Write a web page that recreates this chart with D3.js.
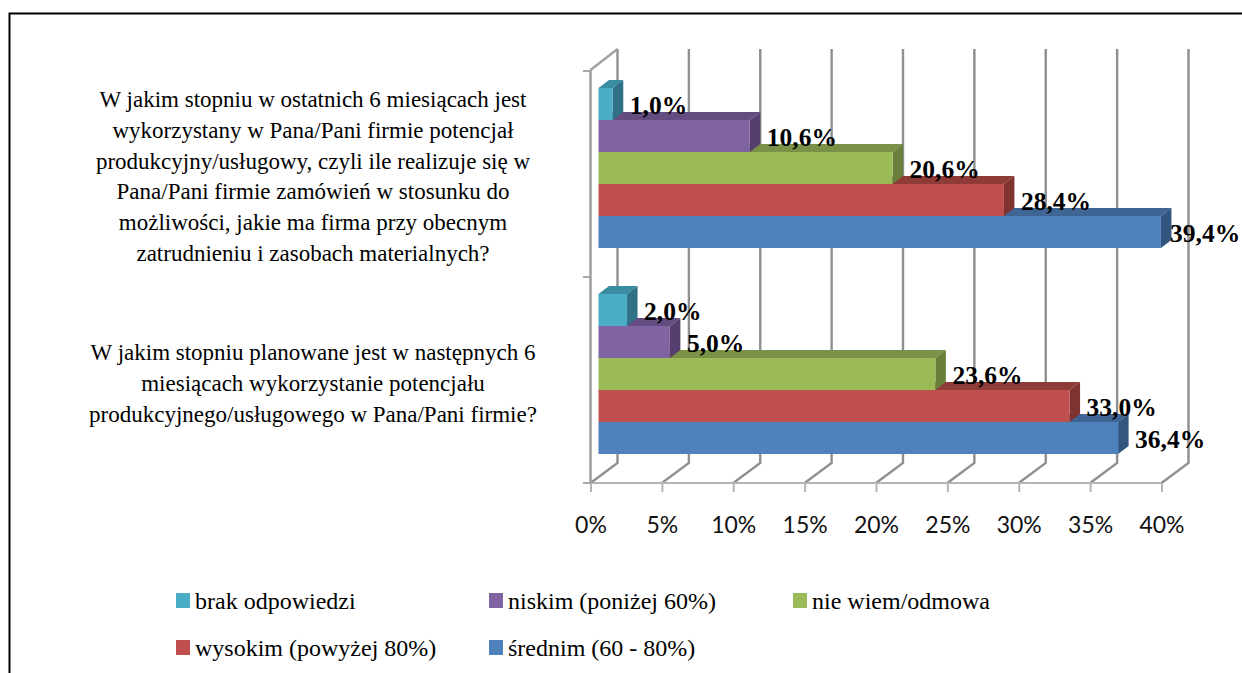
<!DOCTYPE html>
<html><head><meta charset="utf-8">
<script src="https://cdn.jsdelivr.net/npm/d3@7/dist/d3.min.js"></script>
<style>html,body{margin:0;padding:0;background:#fff;overflow:hidden}svg{display:block}</style>
</head><body><svg id="c" width="1242" height="673"></svg>
<script>
const categories = ["top", "bottom"];
const categoryLabels = [
  ["W jakim stopniu w ostatnich 6 miesiącach jest","wykorzystany w Pana/Pani firmie potencjał","produkcyjny/usługowy, czyli ile realizuje się w","Pana/Pani firmie zamówień w stosunku do","możliwości, jakie ma firma przy obecnym","zatrudnieniu i zasobach materialnych?"],
  ["W jakim stopniu planowane jest w następnych 6","miesiącach wykorzystanie potencjału","produkcyjnego/usługowego w Pana/Pani firmie?"]
];
const seriesNames = ["brak odpowiedzi","niskim (poniżej 60%)","nie wiem/odmowa","wysokim (powyżej 80%)","średnim (60 - 80%)"];
const brakOdpowiedzi = [1.0, 2.0];
const niskim = [10.6, 5.0];
const nieWiem = [20.6, 23.6];
const wysokim = [28.4, 33.0];
const srednim = [39.4, 36.4];
const seriesValues = [brakOdpowiedzi, niskim, nieWiem, wysokim, srednim];
const frontColors = ["#4BACC6","#8064A2","#9BBB59","#C0504D","#4F81BD"];
const topColors   = ["#3A8CA3","#644B80","#7A9147","#8F3C39","#3E6593"];
const sideColors  = ["#2F7288","#563F6E","#6A7F3B","#7E3331","#335680"];
const xTicks = [0,5,10,15,20,25,30,35,40];

const svg = d3.select("#c");
const SERIF = "'Liberation Serif','Times New Roman',serif";
const x = d3.scaleLinear().domain([0,40]).range([590.5,1161.5]);
const y = d3.scaleBand().domain(categories).range([71,483]);
const inner = d3.scaleBand().domain(d3.range(5)).range([17,177]);
const depthX = 27, depthY = 20, barDX = 10.5, barDY = 8, barInset = 8;
const gridC = "#8F8F8F";

// frame
svg.append("path").attr("d","M9.5,673V13.5H1242").attr("fill","none").attr("stroke","#000").attr("stroke-width",2);

// back wall and floor
const g = svg.append("g").attr("fill","none");
xTicks.forEach(t=>{
  const px = x(t);
  g.append("path").attr("d",`M${px},483L${px+depthX},${483-depthY}V49`).attr("stroke",gridC).attr("stroke-width",2.4);
});
g.append("path").attr("d",`M${x(0)},70L${x(0)+depthX},49`).attr("stroke","#A0A0A0").attr("stroke-width",2.4);

// axes
const ax = svg.append("g").attr("transform","translate(0,483)").call(
  d3.axisBottom(x).tickValues(xTicks).tickSize(9).tickPadding(23).tickFormat(d=>d+"%"));
ax.select(".domain").attr("stroke","#B4B4B4").attr("stroke-width",2).attr("d",`M583,0H${x(40)}`);
ax.selectAll(".tick line").attr("stroke","#B4B4B4").attr("stroke-width",2);
ax.selectAll("text").attr("font-family","Lato").attr("font-size",23).attr("fill","#111").attr("dy",0).attr("y",50);

const yLine = svg.append("g");
yLine.append("path").attr("d",`M${x(0)},70V483`).attr("stroke","#9A9A9A").attr("stroke-width",2.4).attr("fill","none");
y.domain().concat("end").forEach((c,i)=>{
  const py = c==="end" ? y.range()[1] : y(c);
  yLine.append("line").attr("x1",583).attr("x2",x(0)).attr("y1",py).attr("y2",py).attr("stroke","#A8A8A8").attr("stroke-width",2);
});

// 3D bars, bottom series first so upper ones overlap
const x0 = x(0)+barInset;
const w = v => x(v)-x(0);
categories.forEach((c,ci)=>{
  d3.range(4,-1,-1).forEach(si=>{
    const v = seriesValues[si][ci];
    const top = y(c)+inner(si), h = inner.bandwidth(), right = x0+w(v);
    svg.append("path").attr("fill",topColors[si]).attr("d",
      `M${x0},${top}L${x0+barDX},${top-barDY}H${right+barDX}L${right},${top}Z`);
    svg.append("path").attr("fill",sideColors[si]).attr("d",
      `M${right},${top}L${right+barDX},${top-barDY}V${top+h-barDY}L${right},${top+h}Z`);
    svg.append("rect").attr("x",x0).attr("y",top).attr("width",w(v)).attr("height",h).attr("fill",frontColors[si]);
  });
});

// value labels
categories.forEach((c,ci)=>{
  seriesValues.forEach((vals,si)=>{
    const v = vals[ci];
    const lx = Math.min(x0+w(v)+barDX+6.5, 1170);
    svg.append("text").attr("x",lx).attr("y",y(c)+inner(si)+inner.bandwidth()-6)
      .attr("font-family",SERIF).attr("font-weight","bold").attr("font-size",25.5).attr("fill","#000")
      .text(v.toFixed(1).replace(".",",")+"%");
  });
});

// category labels
const catBase = [107,360];
categoryLabels.forEach((lines,i)=>{
  lines.forEach((l,j)=>{
    svg.append("text").attr("x",313).attr("y",catBase[i]+j*30.8).attr("text-anchor","middle")
      .attr("font-family",SERIF).attr("font-size",23).attr("fill","#000").text(l);
  });
});

// legend
const legendX = [176,489,793,176,489], legendY = [593,593,593,640,640];
const order = [0,1,2,3,4];
order.forEach((si,i)=>{
  svg.append("rect").attr("x",legendX[i]).attr("y",legendY[i]).attr("width",14).attr("height",15).attr("fill",frontColors[si]);
  svg.append("text").attr("x",legendX[i]+19).attr("y",legendY[i]+16).attr("font-family",SERIF).attr("font-size",24).attr("fill","#000").text(seriesNames[si]);
});
</script></body></html>
